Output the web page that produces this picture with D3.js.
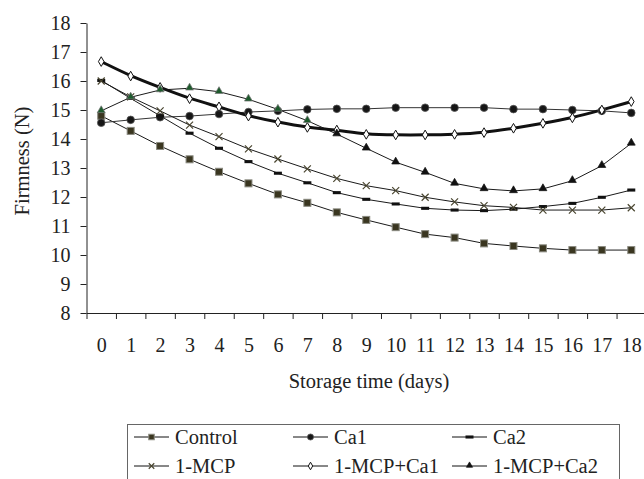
<!DOCTYPE html>
<html>
<head>
<meta charset="utf-8">
<script src="https://cdn.jsdelivr.net/npm/d3@7"></script>
<style>
  body { margin: 0; background: #fff; }
</style>
</head>
<body>
<div id="chart"></div>
<script>
// storage days
const days = [0, 1, 2, 3, 4, 5, 6, 7, 8, 9, 10, 11, 12, 13, 14, 15, 16, 17, 18];
const yTicks = [8, 9, 10, 11, 12, 13, 14, 15, 16, 17, 18];

// firmness (N)
const control = [14.8, 14.28, 13.76, 13.3, 12.87, 12.47, 12.09, 11.8, 11.47, 11.21, 10.96, 10.72, 10.6, 10.4, 10.31, 10.23, 10.17, 10.17, 10.17];
const ca1 = [14.56, 14.66, 14.75, 14.79, 14.86, 14.93, 14.97, 15.02, 15.04, 15.04, 15.08, 15.08, 15.08, 15.08, 15.03, 15.03, 15.0, 14.97, 14.9];
const ca2 = [16.02, 15.4, 14.8, 14.2, 13.68, 13.22, 12.82, 12.49, 12.15, 11.92, 11.76, 11.61, 11.55, 11.53, 11.58, 11.67, 11.78, 11.99, 12.24];
const mcp = [16.0, 15.45, 14.97, 14.48, 14.08, 13.66, 13.31, 12.97, 12.64, 12.39, 12.22, 11.99, 11.83, 11.7, 11.64, 11.55, 11.55, 11.55, 11.63];
const mcpCa1 = [16.67, 16.17, 15.78, 15.39, 15.11, 14.79, 14.58, 14.4, 14.31, 14.16, 14.14, 14.14, 14.16, 14.22, 14.37, 14.54, 14.73, 15.0, 15.29];
const mcpCa2 = [14.97, 15.44, 15.69, 15.75, 15.63, 15.37, 15.02, 14.63, 14.17, 13.68, 13.2, 12.85, 12.47, 12.28, 12.21, 12.28, 12.56, 13.08, 13.85];

const seriesNames = ["Control", "Ca1", "Ca2", "1-MCP", "1-MCP+Ca1", "1-MCP+Ca2"];
const seriesValues = [control, ca1, ca2, mcp, mcpCa1, mcpCa2];

const width = 644, height = 479;
const plotLeft = 86.5, plotRight = 646, plotTop = 23, plotBottom = 313;
const serif = "Liberation Serif";

const svg = d3.select("#chart").append("svg")
    .attr("width", width)
    .attr("height", height);

svg.append("rect").attr("width", width).attr("height", height).attr("fill", "#fff");

const x = d3.scaleLinear().domain([-0.5, 18.5]).range([plotLeft, plotRight]);
const y = d3.scaleLinear().domain([8, 18]).range([plotBottom, plotTop]);

function serifText(sel, size) {
    sel.attr("font-family", serif)
        .attr("font-size", size)
        .style("font-family", serif)
        .attr("fill", "#222");
}

// y axis
const yAxis = svg.append("g")
    .attr("transform", "translate(" + plotLeft + ",0)")
    .call(d3.axisLeft(y).tickValues(yTicks).tickSize(6).tickPadding(10).tickSizeOuter(0));
yAxis.attr("font-family", serif).attr("font-size", 20);
yAxis.select(".domain").attr("stroke", "#222");
yAxis.selectAll(".tick line").attr("stroke", "#222");
serifText(yAxis.selectAll("text"), 20);

// x axis: tick marks between days, labels at days
const xTickMarks = svg.append("g")
    .attr("transform", "translate(0," + plotBottom + ")")
    .call(d3.axisBottom(x).tickValues(d3.range(-0.5, 18.6, 1)).tickSize(6).tickFormat("").tickSizeOuter(0));
xTickMarks.select(".domain").attr("stroke", "#222");
xTickMarks.selectAll(".tick line").attr("stroke", "#222");

const xLabels = svg.append("g")
    .attr("transform", "translate(0," + plotBottom + ")")
    .call(d3.axisBottom(x).tickValues(days).tickSize(0).tickPadding(25).tickFormat(d3.format("d")));
xLabels.attr("font-family", serif).attr("font-size", 20);
xLabels.select(".domain").remove();
serifText(xLabels.selectAll("text"), 20);

// axis titles
svg.append("text")
    .attr("transform", "rotate(-90)")
    .attr("x", -161)
    .attr("y", 28.5)
    .attr("text-anchor", "middle")
    .call(serifText, 20.5)
    .text("Firmness (N)");

svg.append("text")
    .attr("x", 369)
    .attr("y", 388)
    .attr("text-anchor", "middle")
    .call(serifText, 20.5)
    .text("Storage time (days)");

// lines
const line = d3.line()
    .x((d, i) => x(days[i]))
    .y(d => y(d));

seriesValues.forEach(function (vals, k) {
    svg.append("path")
        .datum(vals)
        .attr("fill", "none")
        .attr("stroke", k === 1 ? "#333" : "#1a1a1a")
        .attr("stroke-width", 1)
        .attr("d", line);
});

// thick smoothed curve for 1-MCP+Ca1
svg.append("path")
    .datum(mcpCa1)
    .attr("fill", "none")
    .attr("stroke", "#111")
    .attr("stroke-width", 3)
    .attr("d", line.curve(d3.curveBasis));
line.curve(d3.curveLinear);

// markers
function drawMarker(g, k, cx, cy, s, i) {
    if (k === 0) {
        g.append("rect").attr("x", cx - s / 2).attr("y", cy - s / 2).attr("width", s).attr("height", s)
            .attr("fill", "#3a3620").attr("stroke", "#8a8a80").attr("stroke-width", 1);
    } else if (k === 1) {
        g.append("circle").attr("cx", cx).attr("cy", cy).attr("r", s / 2 + 0.3)
            .attr("fill", "#161616").attr("stroke", "#555").attr("stroke-width", 0.8);
    } else if (k === 2) {
        g.append("rect").attr("x", cx - s / 2 - 0.5).attr("y", cy - s * 0.22).attr("width", s + 1).attr("height", s * 0.44)
            .attr("fill", "#111");
    } else if (k === 3) {
        const h = s / 2;
        g.append("path").attr("d", "M" + (cx - h) + "," + (cy - h) + "L" + (cx + h) + "," + (cy + h) +
            "M" + (cx - h) + "," + (cy + h) + "L" + (cx + h) + "," + (cy - h))
            .attr("stroke", "#4a4630").attr("stroke-width", 1.2).attr("fill", "none");
    } else if (k === 4) {
        g.append("path").attr("transform", "translate(" + cx + "," + cy + ")")
            .attr("d", d3.symbol(d3.symbolDiamond, s * s * 0.55)())
            .attr("fill", "#fff").attr("stroke", "#111").attr("stroke-width", 1);
    } else {
        g.append("path").attr("transform", "translate(" + cx + "," + (cy - 0.5) + ")")
            .attr("d", d3.symbol(d3.symbolTriangle, s * s * 0.55)())
            .attr("fill", i !== undefined && i < 8 ? "#1d5a2c" : "#111")
            .attr("stroke", i !== undefined && i < 8 ? "#777" : "#111").attr("stroke-width", 0.7);
    }
}

const marks = svg.append("g");
seriesValues.forEach(function (vals, k) {
    vals.forEach(function (v, i) {
        drawMarker(marks, k, x(days[i]), y(v), 7, i);
    });
});

// legend
const legend = svg.append("g");
legend.append("rect")
    .attr("x", 127.5).attr("y", 424.5)
    .attr("width", 492).attr("height", 70)
    .attr("fill", "#fff").attr("stroke", "#666").attr("stroke-width", 1);

const colX = [134, 293, 452];
const rowY = [437, 466];
seriesNames.forEach(function (name, k) {
    const cx = colX[k % 3], cy = rowY[Math.floor(k / 3)];
    const len = 35;
    legend.append("line")
        .attr("x1", cx).attr("x2", cx + len)
        .attr("y1", cy).attr("y2", cy)
        .attr("stroke", "#111").attr("stroke-width", 1);
    drawMarker(legend, k, cx + len / 2, cy, k === 2 ? 7 : 5.5);
    legend.append("text")
        .attr("x", cx + len + 6)
        .attr("y", cy + 7)
        .call(serifText, 20.5)
        .text(name);
});
</script>
</body>
</html>
